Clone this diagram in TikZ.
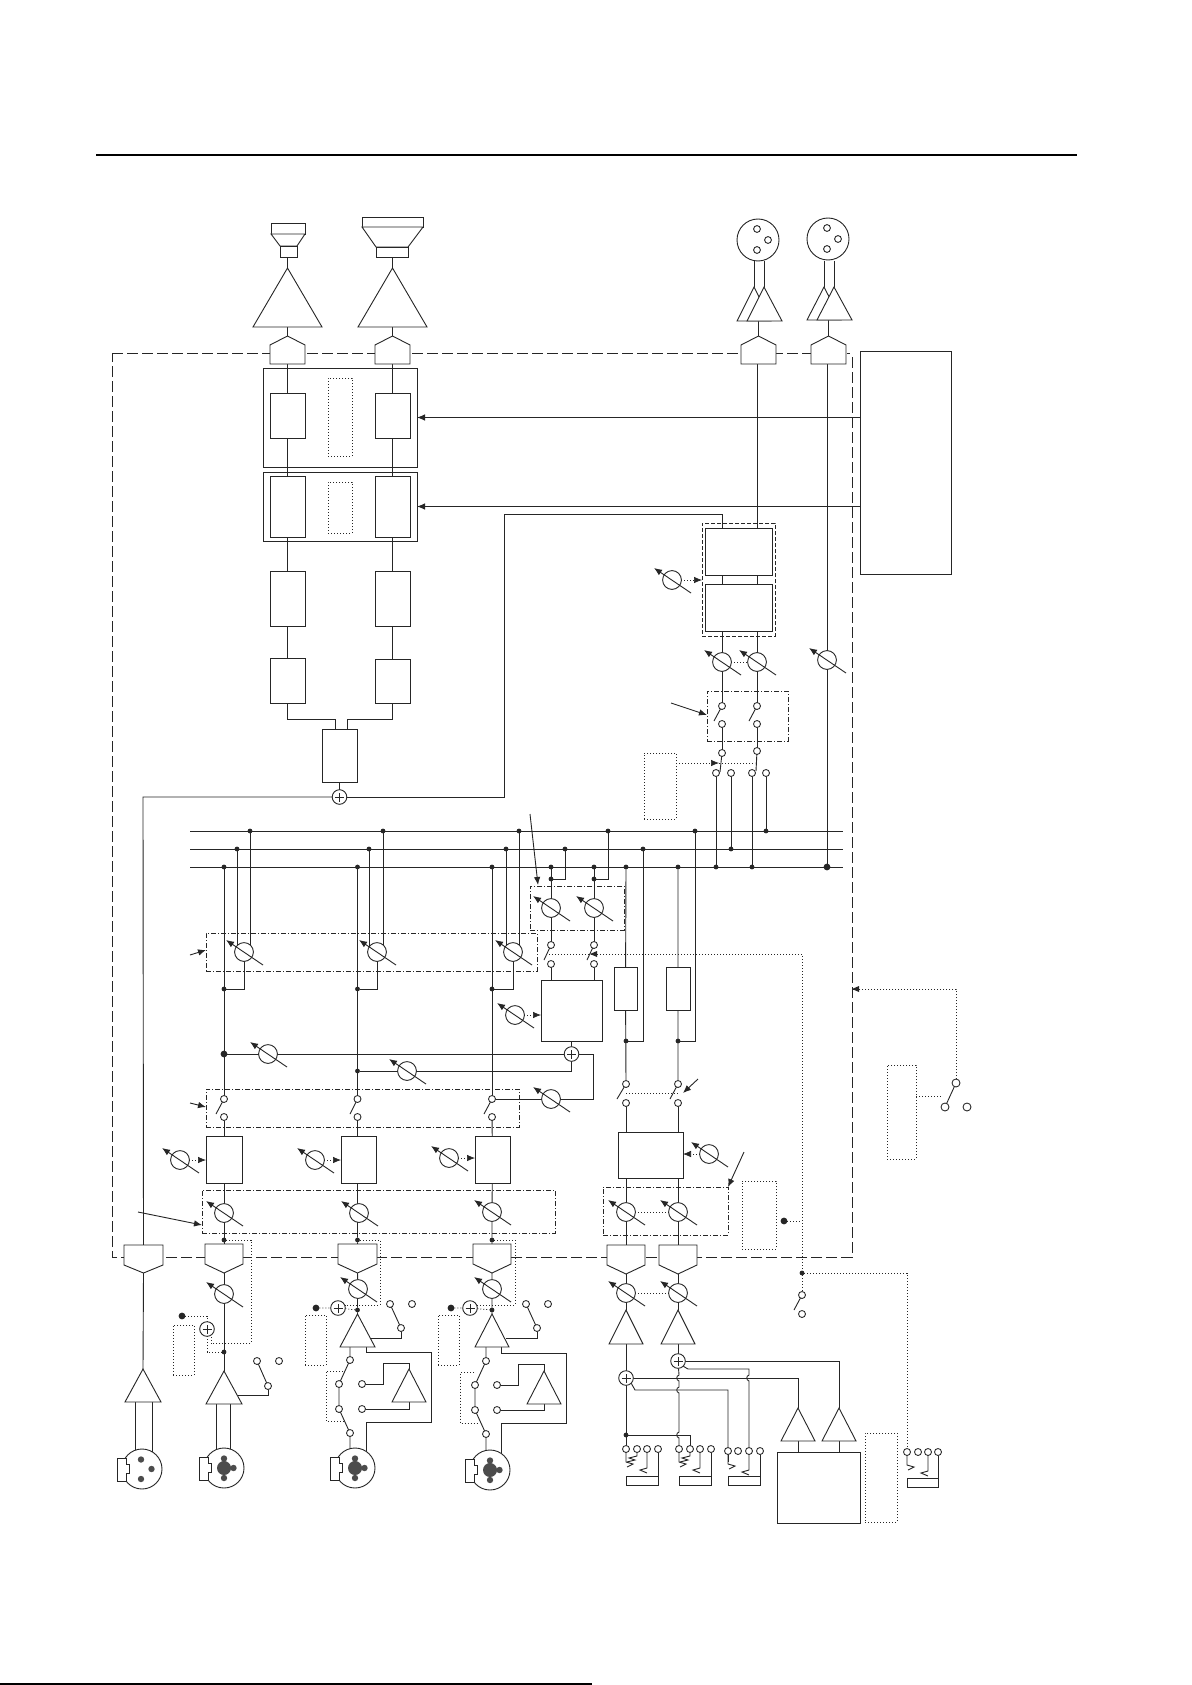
\documentclass[tikz,border=0pt]{standalone}
\usetikzlibrary{arrows.meta,backgrounds}
\definecolor{ink}{gray}{0.15}
\tikzset{
  base/.style={x=1pt,y=-1pt},
  wire/.style={draw=ink,line width=.9pt},
  shp/.style={draw=ink,line width=.9pt,fill=white,line join=miter},
  boxs/.style={draw=ink,line width=.9pt,fill=white,inner sep=0pt,outer sep=0pt},
  hollow/.style={draw=ink,line width=.9pt,inner sep=0pt,outer sep=0pt},
  dotb/.style={draw=ink,line width=.7pt,dash pattern=on 1pt off 2pt,inner sep=0pt,outer sep=0pt},
  dotw/.style={draw=ink,line width=.7pt,dash pattern=on 1pt off 2pt},
  dashd/.style={draw=ink,line width=.75pt,dash pattern=on 5pt off 2pt on 1pt off 2pt,inner sep=0pt,outer sep=0pt},
  dashb/.style={draw=ink,line width=.85pt,dash pattern=on 4pt off 2pt,inner sep=0pt,outer sep=0pt},
  frame/.style={draw=ink,line width=.95pt,dash pattern=on 11pt off 4pt},
  tipped/.style={-{Latex[length=8pt,width=6.5pt]}},
  potc/.style={circle,draw=ink,line width=.9pt,fill=white,minimum size=18.8pt,inner sep=0pt,outer sep=0pt},
  tmc/.style={circle,draw=ink,line width=.85pt,fill=white,minimum size=7pt,inner sep=0pt,outer sep=0pt},
  dotc/.style={circle,fill=ink,minimum size=4.8pt,inner sep=0pt,outer sep=0pt},
  bigc/.style={circle,fill=ink,minimum size=6.8pt,inner sep=0pt,outer sep=0pt},
  sumc/.style={circle,draw=ink,line width=.9pt,fill=white,minimum size=14.6pt,inner sep=0pt,outer sep=0pt},
}
\newcommand{\dBox}[6][boxs]{\node[#1,minimum width={(#5-#3)*1pt},minimum height={(#6-#4)*1pt}] (#2) at ({(#3+#5)/2},{(#4+#6)/2}) {};}
\newcommand{\dPot}[3]{\node[potc] (#1) at (#2,#3) {};\draw[wire,tipped] ([shift={(19,13)}]#1.center) -- ([shift={(-18,-12)}]#1.center);}
\newcommand{\dTm}[3]{\node[tmc] (#1) at (#2,#3) {};}
\newcommand{\dDot}[3]{\node[dotc] (#1) at (#2,#3) {};}
\newcommand{\dBig}[3]{\node[bigc] (#1) at (#2,#3) {};}
\newcommand{\dSum}[3]{\node[sumc] (#1) at (#2,#3) {};\draw[draw=ink,line width=.75pt] ([xshift=-4.5pt]#1.center) -- ([xshift=4.5pt]#1.center) ([yshift=-4.5pt]#1.center) -- ([yshift=4.5pt]#1.center);}
\newcommand{\dTri}[6]{\draw[shp] (#2,#3) -- (#4,#6) -- (#5,#6) -- cycle;\coordinate (#1-a) at (#2,#3);\coordinate (#1-b) at ({(#4+#5)/2},#6);}
\newcommand{\dPent}[6]{\draw[shp] ({(#2+#3)/2},#4) -- (#3,#5) -- (#3,#6) -- (#2,#6) -- (#2,#5) -- cycle;\coordinate (#1-a) at ({(#2+#3)/2},#4);\coordinate (#1-b) at ({(#2+#3)/2},#6);}
\newcommand{\dTrap}[6]{\draw[shp] (#2,#4) -- (#3,#4) -- (#3,#5) -- ({(#2+#3)/2},#6) -- (#2,#5) -- cycle;\coordinate (#1-t) at ({(#2+#3)/2},#4);\coordinate (#1-b) at ({(#2+#3)/2},#6);}
\newcommand{\dXF}[3]{\node[circle,draw=ink,line width=.9pt,fill=white,minimum size=42pt,inner sep=0pt,outer sep=0pt] (#1) at (#2,#3) {};
  \foreach \pa/\pb in {-1/-11,10/0,-1/10}{\draw[wire,fill=white] ([shift={(\pa,\pb)}]#1.center) circle[radius=3.4pt];}}
\newcommand{\dXM}[4]{\node[circle,draw=ink,line width=.9pt,fill=white,minimum size=40pt,inner sep=0pt,outer sep=0pt] (#1) at (#2,#3) {};
  \draw[shp] (#2-25,#3-11) -- (#2-16,#3-11) -- (#2-16,#3-4.5) -- (#2-13,#3-4.5) -- (#2-13,#3+4) -- (#2-16,#3+4) -- (#2-16,#3+12) -- (#2-25,#3+12) -- cycle;
  \ifnum#4=1 \fill[black!70] (#2,#3) circle[radius=7pt] (#2,#3-9.5) circle[radius=3.2pt] (#2+9.5,#3) circle[radius=3.2pt] (#2,#3+10) circle[radius=3.2pt];
  \else \fill[black!70] (#2-1,#3-9.5) circle[radius=3.2pt] (#2+9.5,#3) circle[radius=3.2pt] (#2-1,#3+10) circle[radius=3.2pt];\fi}
\newcommand{\dJack}[7]{\dTm{#1a}{#2}{#6}\dTm{#1b}{#3}{#6}\dTm{#1c}{#4}{#6}\dTm{#1d}{#5}{#6}
  \dBox[hollow]{#1r}{#2}{#7}{#5}{#7+9}
  \draw[wire] (#1a) -- (#2,#6+13) -- (#2+7,#6+15) -- (#2+1,#6+18);
  \draw[wire] (#1c) -- (#4,#6+19) -- (#4-7,#6+21) -- (#4,#6+24);
  \draw[wire] (#1d) -- (#1d |- #1r.north);}
\newcommand{\dExtra}[3]{\draw[wire] (#1) -- (#3,#2+7) -- (#3-8,#2+9) -- (#3-2,#2+11) -- (#3-10,#2+13);}
\newcommand{\dHop}[2]{-- (#1,#2-3) .. controls (#1-3,#2-2) and (#1-3,#2+2) .. (#1,#2+3)}
\begin{document}
\begin{tikzpicture}[base]
\useasboundingbox (0,0) rectangle (1191,1685);
% rules
\coordinate (ruleTa) at (96,155);\coordinate (ruleTb) at (1077,155);
\coordinate (ruleBa) at (0,1684);\coordinate (ruleBb) at (592,1684);
\draw[draw=black,line width=2pt] (ruleTa) -- (ruleTb);
\draw[draw=black,line width=1.6pt] (ruleBa) -- (ruleBb);
% speakers
\draw[shp] (271,223) rectangle (305,234);
\draw[shp] (271,234) -- (305,234) -- (297,246) -- (280,246) -- cycle;
\draw[shp] (280,246) rectangle (297,257);
\coordinate (spkA) at (287.5,257);
\draw[shp] (362,217) rectangle (423,227);
\draw[shp] (362,227) -- (423,227) -- (408,247) -- (376,247) -- cycle;
\draw[shp] (376,247) rectangle (408,257);
\coordinate (spkB) at (392.5,257);
\dTri{ampA}{287.5}{268}{253}{322}{327}
\dTri{ampB}{392.5}{268}{358}{427}{327}
\dPent{pA}{270}{305}{336}{345}{364}
\dPent{pB}{375}{410}{336}{345}{364}
% top xlr
\dXF{xfA}{758}{240}
\dXF{xfB}{828}{239}
\dTri{backA}{754}{287}{737}{771}{321}
\dTri{ampC}{764}{287}{747}{782}{321}
\dTri{backB}{824}{287}{807}{841}{320}
\dTri{ampD}{834}{287}{817}{852}{320}
\dPent{pC}{741}{776}{336}{345}{364}
\dPent{pD}{811}{846}{336}{345}{364}
% control boxes
\dBox{ctl}{860}{351}{951}{574}
\dBox[hollow]{boxA}{263}{368}{417}{467}
\dBox[hollow]{boxB}{263}{472}{417}{541}
\dBox{a1}{270}{393}{305}{438}\dBox{a2}{375}{393}{410}{438}
\dBox{b1}{270}{476}{305}{537}\dBox{b2}{375}{476}{410}{537}
\dBox{c1}{270}{571}{305}{626}\dBox{c2}{375}{571}{410}{626}
\dBox{d1}{270}{658}{305}{703}\dBox{d2}{375}{659}{410}{703}
\dBox[dotb]{noteA}{328}{378}{352}{456}
\dBox[dotb]{noteB}{328}{482}{352}{533}
\dBox{mixE}{322}{729}{357}{782}
\dSum{sTop}{339.5}{797}
% q boxes
\dBox[dashb]{qFrame}{702}{523}{775}{636}
\dBox{q1}{705}{528}{772}{575}
\dBox{q2}{705}{584}{772}{631}
\dPot{pq}{672}{580}
\dPot{pqa}{722}{662}\dPot{pqb}{757}{662}\dPot{pqc}{827}{660}
\dBox[dashd]{swF}{707}{691}{788}{741}
\coordinate (swFa) at (671,703);\coordinate (swFb) at (707,715);
\dTm{sa1}{722}{706}\dTm{sa2}{722}{724}\dTm{sb1}{757}{706}\dTm{sb2}{757}{724}
\dTm{sa3}{722}{753}\dTm{sb3}{757}{751}
\dTm{ua}{716}{773}\dTm{ub}{731}{773}\dTm{uc}{752}{773}\dTm{ud}{766}{773}
\dBox[dotb]{noteC}{644}{753}{676}{819}
% buses
\coordinate (b1l) at (190,831);\coordinate (b1r) at (843,831);
\coordinate (b2l) at (190,849);\coordinate (b2r) at (843,849);
\coordinate (b3l) at (190,867);\coordinate (b3r) at (843,867);
\dDot{dua}{716}{867}\dDot{dub}{731}{849}\dDot{duc}{752}{867}\dDot{dud}{766}{831}
\dBig{dpc}{827}{867}
\dDot{c1a}{224}{867}\dDot{c1b}{237}{849}\dDot{c1c}{250}{831}
\dDot{c2a}{357.5}{867}\dDot{c2b}{369}{849}\dDot{c2c}{383}{831}
\dDot{c3a}{492}{867}\dDot{c3b}{506}{849}\dDot{c3c}{519}{831}
\dDot{c4a}{551}{867}\dDot{c4b}{565}{849}\dDot{c5a}{594}{867}\dDot{c5b}{608}{831}
\dDot{c6a}{626}{867}\dDot{c6b}{643}{849}\dDot{c7a}{678}{867}\dDot{c7b}{695}{831}
\dDot{c4d}{551}{879}\dDot{c5d}{594}{879}
% send pots
\dBox[dashd]{frA}{206}{933}{537}{971}
\dBox[dashd]{frB}{530}{886}{624}{930}
\dPot{s1}{244}{952}\dPot{s2}{377}{952}\dPot{s3}{513}{952}
\dDot{r1}{224}{989}\dDot{r2}{357.5}{989}\dDot{r3}{492}{989}
\dPot{sm1}{551}{908}\dPot{sm2}{594}{908}
\dTm{ma1}{551}{945}\dTm{ma2}{551}{964}\dTm{mb1}{594}{945}\dTm{mb2}{594}{964}
\dBox{mix}{541}{980}{602}{1041}
\dPot{pmix}{515}{1015}
\dSum{sMix}{571.5}{1054}
\dBig{big1}{224}{1054}\dPot{ret1}{268}{1054}
\dDot{dot2}{357.5}{1071}\dPot{ret2}{407}{1071}
\dPot{ret3}{551}{1099}
\dBox{fa}{614}{967}{637}{1010}\dBox{fb}{666}{967}{690}{1010}
\dDot{fda}{626}{1041}\dDot{fdb}{678}{1041}
\dTm{fs1}{626}{1084}\dTm{fs2}{626}{1103}\dTm{fs3}{678}{1084}\dTm{fs4}{678}{1103}
% channel switches
\dBox[dashd]{frC}{206}{1089}{519}{1127}
\dTm{k1a}{224}{1099}\dTm{k1b}{224}{1117}
\dTm{k2a}{357.5}{1099}\dTm{k2b}{357.5}{1117}
\dTm{k3a}{492}{1099}\dTm{k3b}{492}{1117}
% channel boxes
\dBox{m1}{206}{1136}{242}{1183}\dBox{m2}{341}{1136}{376}{1183}\dBox{m3}{475}{1136}{510}{1183}
\dPot{lp1}{180}{1160}\dPot{lp2}{315}{1160}\dPot{lp3}{449}{1158}
\dBox[dashd]{frD}{202}{1190}{555}{1233}
\dPot{g1}{224}{1213}\dPot{g2}{359}{1213}\dPot{g3}{492}{1212}
\dDot{e1}{224}{1240}\dDot{e2}{357.5}{1240}\dDot{e3}{492}{1240}
\dTrap{tr0}{124}{163}{1245}{1265}{1273}
\dTrap{tr1}{205}{243}{1244}{1264}{1273}
\dTrap{tr2}{338}{377}{1244}{1264}{1273}
\dTrap{tr3}{473}{511}{1244}{1264}{1273}
\dTrap{tr4}{607}{645}{1245}{1265}{1274}
\dTrap{tr5}{659}{697}{1245}{1265}{1274}
\dPot{h1}{224}{1294}\dPot{h2}{358}{1289}\dPot{h3}{492}{1289}
% col 0
\dTri{t0}{143}{1369}{125}{161}{1402}
\dXM{x0}{142}{1469}{0}
% col 1
\dSum{ph1}{207}{1329}
\dBig{bg1}{182}{1316}
\dDot{k1}{224}{1352}
\dBox[dotb]{nt1}{173}{1325}{194}{1375}
\dTri{t1}{224}{1371}{206}{242}{1404}
\dTm{w1a}{257}{1361}\dTm{w1b}{279}{1361}\dTm{w1c}{268}{1386}
\dXM{x1}{224}{1468}{1}
% col 2
\dSum{ph2}{338}{1308}
\dBig{bg2}{316}{1308}
\dDot{k2}{357.5}{1310}
\dBox[dotb]{nt2}{305}{1315}{326}{1365}
\dTri{t2}{357.5}{1314}{340}{375}{1347}
\dTm{w2a}{390}{1304}\dTm{w2b}{412}{1304}\dTm{w2c}{401}{1328}
\dTm{n2a}{350}{1360}\dTm{n2b}{339}{1384}\dTm{n2c}{362}{1384}\dTm{n2d}{339}{1409}\dTm{n2e}{362}{1409}\dTm{n2f}{350}{1433}
\dTri{fb2}{409}{1369}{392}{426}{1402}
\dXM{x2}{355}{1468}{1}
% col 3
\dSum{ph3}{470}{1308}
\dBig{bg3}{451}{1308}
\dDot{k3}{492}{1310}
\dBox[dotb]{nt3}{438}{1315}{459}{1365}
\dTri{t3}{492}{1314}{475}{509}{1347}
\dTm{w3a}{526}{1304}\dTm{w3b}{548}{1304}\dTm{w3c}{537}{1328}
\dTm{n3a}{486}{1361}\dTm{n3b}{475}{1385}\dTm{n3c}{497}{1385}\dTm{n3d}{475}{1410}\dTm{n3e}{497}{1410}\dTm{n3f}{486}{1434}
\dTri{fb3}{544}{1371}{527}{561}{1404}
\dXM{x3}{490}{1470}{1}
% right channels
\dBox{mr}{618}{1132}{683}{1178}
\dPot{pmr}{709}{1154}
\dBox[dashd]{frE}{603}{1187}{728}{1235}
\dPot{ga}{626}{1212}\dPot{gb}{678}{1212}
\dPot{ha}{626}{1293}\dPot{hb}{678}{1293}
\dTri{ta}{626}{1310}{609}{643}{1344}
\dTri{tb}{678}{1310}{661}{695}{1344}
\dSum{sa}{626}{1378}\dSum{sb}{678}{1361}
\dDot{ja}{626}{1435}
\dJack{jA}{626}{637}{647}{658}{1449}{1476}
\dJack{jB}{679}{690}{700}{711}{1449}{1476}
\dJack{jC}{728}{738}{749}{760}{1451}{1476}
\dJack{jD}{907}{918}{928}{938}{1452}{1478}
\dExtra{jAb}{1449}{637}
\dExtra{jBb}{1449}{690}
\dTri{aa}{798}{1408}{781}{815}{1441}
\dTri{ab}{839}{1408}{822}{856}{1441}
\dBox{gen}{777}{1452}{860}{1523}
\dBox[dotb]{ntg}{865}{1433}{897}{1522}
\dBox[dotb]{ntm}{742}{1181}{776}{1249}
\dBig{bgm}{784}{1221}
\dDot{jn}{802}{1273}
\dTm{psa}{802}{1295}\dTm{psb}{802}{1314}
\dBox[dotb]{ntr}{887}{1065}{916}{1159}
\node[tmc,minimum size=8pt] (qa) at (956,1083) {};
\node[tmc,minimum size=8pt] (qb) at (945,1107) {};
\node[tmc,minimum size=8pt] (qc) at (967,1107) {};
% free ends of dotted control lines
\coordinate (fr1) at (852,989);
\begin{scope}[on background layer]
\fill[white] (0,0) rectangle (1191,1685);
\draw[frame] (112,353) -- (850,353) (852,357) -- (852,1257) -- (112,1257) -- (112,353);
% speakers chain
\draw[wire] (spkA) -- (ampA-a) (ampA-b) -- (pA-a) (pA-b) -- (a1) (a1) -- (b1) (b1) -- (c1) (c1) -- (d1);
\draw[wire] (spkB) -- (ampB-a) (ampB-b) -- (pB-a) (pB-b) -- (a2) (a2) -- (b2) (b2) -- (c2) (c2) -- (d2);
\draw[wire] (d1.south) |- (335,719) -- (335,729);
\draw[wire] (d2.south) |- (347,719) -- (347,729);
\draw[wire] (mixE) -- (sTop);
\draw[wire] (sTop) -- (504,797) -- (504,514) -- (722,514) -- (722,528);
\draw[wire] (sTop) -- (143,797) -- (tr0-t);
% top connectors
\draw[wire] (754,261) -- (754,287) (764,261) -- (764,287);
\draw[wire] (824,261) -- (824,287) (834,261) -- (834,287);
\draw[wire] (ampC-b -| pC-a) -- (pC-a);
\draw[wire] (ampD-b -| pD-a) -- (pD-a);
\draw[wire] (757,364) -- (757,528);
\draw[wire] (827,364) -- (pqc);
\draw[wire] (722,575) -- (722,584) (757,575) -- (757,584);
\draw[wire] (722,631) -- (pqa) (757,631) -- (pqb);
\draw[wire] (pqa) -- (sa1) (pqb) -- (sb1);
\draw[wire] (sa2) -- (sa3) (sb2) -- (sb3);
\draw[wire] (ua) -- (dua) (ub) -- (dub) (uc) -- (duc) (ud) -- (dud);
\draw[wire] (pqc) -- (dpc);
% buses
\draw[wire] (b1l) -- (b1r) (b2l) -- (b2r) (b3l) -- (b3r);
% channels
\draw[wire] (c1a) -- (k1a) (c1b) -- (c1b |- s1) (c1c) -- (c1c |- s1) (s1) |- (r1);
\draw[wire] (c2a) -- (k2a) (c2b) -- (c2b |- s2) (c2c) -- (c2c |- s2) (s2) |- (r2);
\draw[wire] (c3a) -- (k3a) (c3b) -- (c3b |- s3) (c3c) -- (c3c |- s3) (s3) |- (r3);
\draw[wire] (c4a) -- (sm1) (sm1) -- (ma1) (ma2) -- (ma2 |- mix.north);
\draw[wire] (c5a) -- (sm2) (sm2) -- (mb1) (mb2) -- (mb2 |- mix.north);
\draw[wire] (c4d) -| (c4b) (c5d) -| (c5b);
\draw[wire] (c6a) -- (fa) (fa) -- (fs1) (c7a) -- (fb) (fb) -- (fs3);
\draw[wire] (fda) -| (c6b) (fdb) -| (c7b);
\draw[wire] (mix) -- (sMix);
\draw[wire] (big1) -- (ret1) (ret1) -- (sMix);
\draw[wire] (dot2) -- (ret2) (ret2) -- (sMix.south |- ret2) -- (sMix.south);
\draw[wire] (k3a) -- (ret3) (ret3) -- (593,1099) -- (593,1054) -- (sMix);
\draw[wire] (k1b) -- (m1) (m1) -- (g1) (g1) -- (e1) (tr1-b) -- (h1) (h1) -- (k1) (k1) -- (t1-a);
\draw[wire] (k2b) -- (k2b |- m2.north) (k2b |- m2.south) -- (k2b |- g2) (k2b |- g2) -- (e2) (e2) -- (tr2-t) (tr2-b) -- (h2) (k2 |- h2) -- (k2) (k2) -- (t2-a);
\draw[wire] (k3b) -- (m3) (m3) -- (g3) (g3) -- (e3) (e3) -- (tr3-t) (tr3-b) -- (h3) (h3) -- (k3) (k3) -- (t3-a);
\draw[wire] (e1) -- (tr1-t);
\draw[wire] (tr0-b) -- (t0-a);
% xlr pairs
\draw[wire] (135,1402) -- (135,1455) (152,1402) -- (152,1455);
\draw[wire] (216,1404) -- (216,1455) (230,1404) -- (230,1455);
% col1 mic switch
\draw[wire] (237,1395.5) -| (w1c);
\draw[wire] (w1c) -- (w1a);
% col2
\draw[wire] (371,1338) -| (w2c);
\draw[wire] (w2c) -- (w2a);
\draw[wire] (350,1347) -- (n2a) (n2a) -- (n2b) (n2b) -- (n2d) (n2d) -- (n2f) (n2f) -- (350,1455);
\draw[wire] (n2c) -- (383,1384) -- (383,1363) -- (409,1363) -- (fb2-a);
\draw[wire] (n2e) -- (409,1409) -- (fb2-b);
\draw[wire] (366,1347) -- (366,1352) -- (431,1352) -- (431,1422) -- (366,1422) -- (366,1458);
% col3
\draw[wire] (506,1338) -| (w3c);
\draw[wire] (w3c) -- (w3a);
\draw[wire] (486,1347) -- (n3a) (n3a) -- (n3b) (n3b) -- (n3d) (n3d) -- (n3f) (n3f) -- (486,1457);
\draw[wire] (n3c) -- (518,1385) -- (518,1364) -- (544,1364) -- (fb3-a);
\draw[wire] (n3e) -- (544,1410) -- (fb3-b);
\draw[wire] (501,1347) -- (501,1353) -- (566,1353) -- (566,1423) -- (501,1423) -- (501,1460);
% right channels
\draw[wire] (fs2) -- (fs2 |- mr.north) (fs4) -- (fs4 |- mr.north);
\draw[wire] (626,1178) -- (ga) (678,1178) -- (gb) (ga) -- (tr4-t) (gb) -- (tr5-t);
\draw[wire] (tr4-b) -- (ha) (tr5-b) -- (hb) (ha) -- (ta-a) (hb) -- (tb-a);
\draw[wire] (ta-b) -- (sa) (tb-b) -- (sb);
\draw[wire] (sa) -- (ja) (ja) -- (jAa);
\draw[wire] (sb) \dHop{679}{1378} \dHop{679}{1390} \dHop{679}{1435} -- (jBa);
\draw[wire] (sb) -- (839,1361) -- (ab-a);
\draw[wire] (sa) -- (798,1378) -- (aa-a);
\draw[wire] (sb.south east) -- (688,1369) -- (749,1369) \dHop{749}{1378} -- (jCc);
\draw[wire] (sa.south east) -- (635,1390) -- (728,1390) -- (jCa);
\draw[wire] (ja) -- (690,1435) -- (jBb);
\draw[wire] (aa-b) -- (aa-b |- gen.north) (ab-b) -- (ab-b |- gen.north);
% dotted controls
\draw[dotw] (pqa) -- (pqb);
\draw[dotw] (fs1 |- 620,1093) -- (678,1093);
\draw[dotw] (ga) -- (gb) (ha) -- (hb);
\draw[dotw] (549,954) -- (802,954) -- (jn) -- (psa);
\draw[dotw] (jn) -- (907,1273) -- (jDa);
\draw[dotw] (bgm) -- (802,1221);
\draw[dotw] (ntr.east |- 0,1096) -- (qb.north west |- 0,1096);
\draw[dotw] (qa) -- (956,989) -- (fr1);
\draw[dotw] (e1) -- (251,1240) -- (251,1343.5) -- (211,1343.5) -- (211,1335);
\draw[dotw] (bg1) -- (207,1316) -- (ph1);
\draw[dotw] (ph1) -- (k1 -| ph1) -- (k1);
\draw[dotw] (e2) -- (380,1240) -- (380,1305) -- (345,1305);
\draw[dotw] (bg2) -- (ph2) (ph2) -- (k2);
\draw[dotw] (e3) -- (515,1240) -- (515,1305) -- (477,1305);
\draw[dotw] (bg3) -- (ph3) (ph3) -- (k3);
\draw[dotw] (343,1371) -- (326,1371) -- (326,1421) -- (345,1421);
\draw[dotw] (474,1372.5) -- (460,1372.5) -- (460,1423) -- (478,1423);
\end{scope}
% arrows over
\draw[wire,tipped] (ctl.west |- boxA.east) -- (boxA.east);
\draw[wire,tipped] (ctl.west |- boxB.east) -- (boxB.east);
\draw[wire,tipped] (swFa) -- (swFb);
\coordinate (arA) at (190,955);\coordinate (arB) at (206,950);
\draw[wire,tipped] (arA) -- (arB);
\coordinate (arC) at (530,814);\coordinate (arD) at (538,885);
\draw[wire,tipped] (arC) -- (arD);
\coordinate (arE) at (190,1103);\coordinate (arF) at (206,1107);
\draw[wire,tipped] (arE) -- (arF);
\coordinate (arG) at (138,1212);\coordinate (arH) at (202,1225);
\draw[wire,tipped] (arG) -- (arH);
\coordinate (arI) at (744,1152);\coordinate (arJ) at (728,1187);
\draw[wire,tipped] (arI) -- (arJ);
\coordinate (arK) at (698,1079);\coordinate (arL) at (683,1093);
\draw[wire,tipped] (arK) -- (arL);
% dotted arrows from pots
\draw[dotw,tipped] (pq) -- (702,580);
\draw[dotw,tipped] (pmix) -- (mix.west |- pmix);
\draw[dotw,tipped] (lp1) -- (m1.west |- lp1);
\draw[dotw,tipped] (lp2) -- (m2.west |- lp2);
\draw[dotw,tipped] (lp3) -- (m3.west |- lp3);
\draw[dotw,tipped] (pmr) -- (mr.east |- pmr);
\draw[dotw,tipped] (noteC.east |- 0,763) -- (719,763);
\draw[dotw] (719,763) -- (755,763);
\fill[ink] (597,951) -- (597,957) -- (590,954) -- cycle;
\fill[ink] (852,989) -- (859,986) -- (859,992) -- cycle;
% switch arms
\draw[wire] (sa1) -- (714,721) (sb1) -- (749,721);
\draw[wire] (sa3) -- (720,772) (sb3) -- (756,771);
\draw[wire] (ma1) -- (544,960) (mb1) -- (587,960);
\draw[wire] (fs1) -- (617,1099) (fs3) -- (670,1099);
\draw[wire] (k1a) -- (216,1114) (k2a) -- (350,1114) (k3a) -- (484,1114);
\draw[wire] (psa) -- (794,1310);
\draw[wire] (qa) -- (qb);
\draw[wire] (jCa) -- (728,1462);
\end{tikzpicture}
\end{document}
